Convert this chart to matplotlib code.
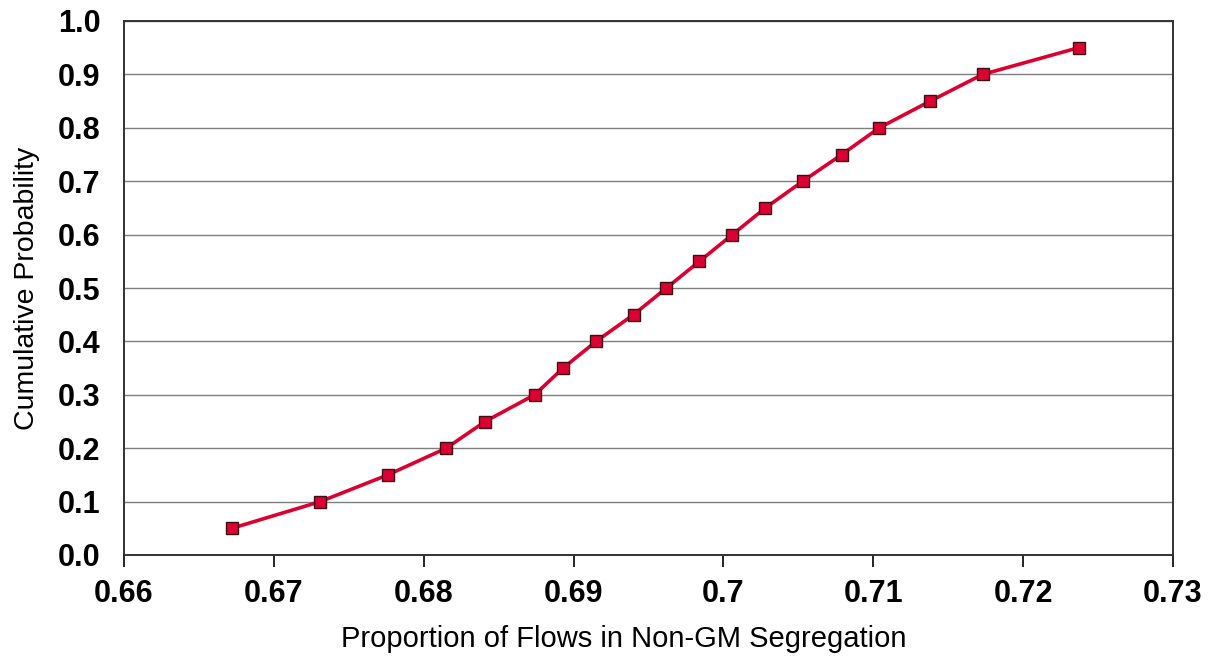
import matplotlib
matplotlib.use("Agg")
import matplotlib.pyplot as plt

x_vals = [0.6672, 0.6731, 0.6776, 0.6815, 0.6841, 0.6874, 0.6893, 0.6915, 0.6940, 0.6962,
          0.6984, 0.7006, 0.7028, 0.7053, 0.7079, 0.7104, 0.7138, 0.7173, 0.7237]
y_vals = [0.05, 0.10, 0.15, 0.20, 0.25, 0.30, 0.35, 0.40, 0.45, 0.50,
          0.55, 0.60, 0.65, 0.70, 0.75, 0.80, 0.85, 0.90, 0.95]
x_ticks = [0.66, 0.67, 0.68, 0.69, 0.70, 0.71, 0.72, 0.73]
x_tick_labels = ["0.66", "0.67", "0.68", "0.69", "0.7", "0.71", "0.72", "0.73"]
y_ticks = [0.0, 0.1, 0.2, 0.3, 0.4, 0.5, 0.6, 0.7, 0.8, 0.9, 1.0]
y_tick_labels = ["0.0", "0.1", "0.2", "0.3", "0.4", "0.5", "0.6", "0.7", "0.8", "0.9", "1.0"]

plt.rcParams['font.family'] = ['Liberation Sans', 'DejaVu Sans']

fig = plt.figure(figsize=(12.08, 6.57), dpi=100)
ax = fig.add_axes([124/1208, 1 - 555/657, (1173-124)/1208, (555-21)/657])

ax.plot(x_vals, y_vals, color='#dc0032', lw=2.6, marker='s', markersize=8.5,
        markerfacecolor='#dc0032', markeredgecolor='#3a1010', markeredgewidth=1.0, zorder=3)

ax.set_xlim(0.66, 0.73)
ax.set_ylim(0.0, 1.0)
ax.set_xticks(x_ticks)
ax.set_xticklabels(x_tick_labels, fontsize=22, fontweight='bold')
ax.set_yticks(y_ticks)
ax.set_yticklabels(y_tick_labels, fontsize=22, fontweight='bold')
ax.yaxis.grid(True, color='#7f7f7f', lw=1.0)
ax.set_axisbelow(True)
ax.tick_params(axis='y', length=0, pad=17)
ax.tick_params(axis='x', length=8.5, width=1.2, direction='out', pad=9, color='black')
for s in ax.spines.values():
    s.set_color('#333333')
    s.set_linewidth(1.4)

ax.set_xlabel('Proportion of Flows in Non-GM Segregation', fontsize=21)
ax.xaxis.set_label_coords(0.4766, -0.132)
ax.set_ylabel('Cumulative Probability', fontsize=20.5, labelpad=13)

fig.savefig('out.png', dpi=100)
